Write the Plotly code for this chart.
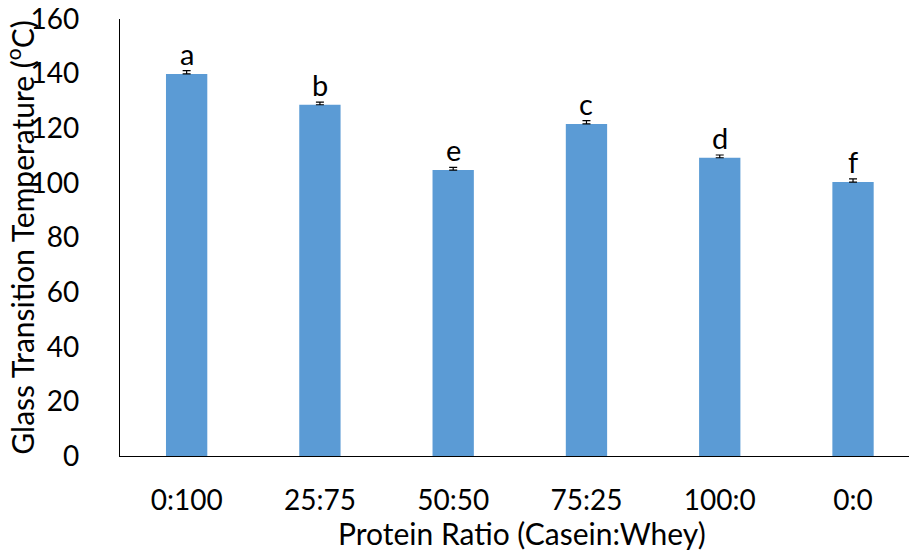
import plotly.graph_objects as go

categories = ["0:100", "25:75", "50:50", "75:25", "100:0", "0:0"]
tg_values = [139.9, 128.6, 104.7, 121.6, 109.2, 100.3]
tg_errors = [1.2, 1.0, 1.0, 1.2, 1.0, 1.2]
letters = ["a", "b", "e", "c", "d", "f"]
y_ticks = [0, 20, 40, 60, 80, 100, 120, 140, 160]

FONT = "Lato, Open Sans, sans-serif"

fig = go.Figure()
fig.add_trace(go.Bar(
    x=categories, y=tg_values,
    marker=dict(color="#5B9BD5", line=dict(width=0)),
    width=0.31,
    error_y=dict(type="data", array=tg_errors, arrayminus=[0] * len(tg_errors),
                 symmetric=False, visible=True, color="black",
                 thickness=1.2, width=4),
))

for c, v, e, l in zip(categories, tg_values, tg_errors, letters):
    fig.add_annotation(x=c, y=v + e, text=l, showarrow=False, yanchor="bottom",
                       yshift=-2, font=dict(family=FONT, size=29, color="black"))

# x-axis title (placed as annotation to match the reference's centring)
fig.add_annotation(text="Protein Ratio (Casein:Whey)", xref="paper", yref="paper",
                   x=0.510, y=-0.176, xanchor="center", yanchor="middle",
                   showarrow=False, font=dict(family=FONT, size=30, color="black"))

fig.update_layout(
    width=909, height=550,
    margin=dict(l=120, r=0, t=19, b=94),
    plot_bgcolor="white", paper_bgcolor="white",
    showlegend=False,
    font=dict(family=FONT, size=28, color="black"),
    xaxis=dict(
        range=[-0.5, 5.42], showline=True, linecolor="black", linewidth=1.2,
        ticks="", showgrid=False, ticklabelstandoff=19,
        tickfont=dict(family=FONT, size=28),
    ),
    yaxis=dict(
        range=[0, 160], tickvals=y_ticks, showline=True, linecolor="black",
        linewidth=1.2, ticks="", showgrid=False, zeroline=False,
        ticklabelstandoff=34, tickfont=dict(family=FONT, size=28),
        title=dict(text="Glass Transition Temperature (<sup>o</sup>C)", standoff=0,
                   font=dict(family=FONT, size=30)),
    ),
)

fig.write_html("out.html")
